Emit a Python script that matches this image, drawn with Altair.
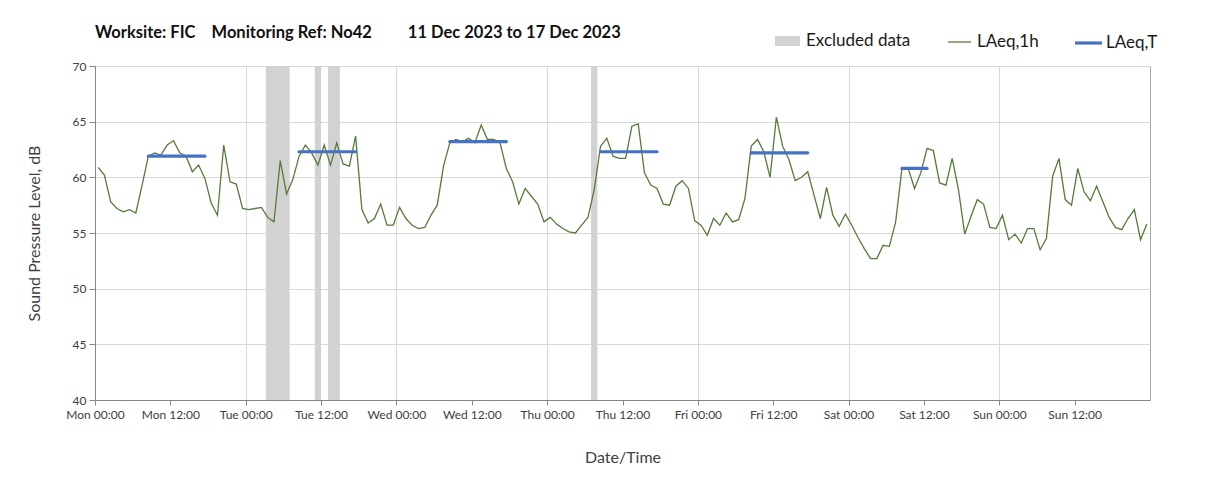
import altair as alt
import pandas as pd

# hourly LAeq,1h values, one per hour from Mon 00:00 (plotted at mid-hour)
laeq_1h = [
    60.9, 60.2, 57.8, 57.2, 56.9, 57.1, 56.8, 59.3, 61.9, 62.2, 62.0, 62.9,
    63.3, 62.2, 61.9, 60.5, 61.1, 59.9, 57.7, 56.6, 62.9, 59.6, 59.4, 57.2,
    57.1, 57.2, 57.3, 56.4, 56.0, 61.5, 58.5, 59.8, 61.9, 62.9, 62.2, 61.1,
    62.9, 61.1, 63.1, 61.2, 61.0, 63.7, 57.1, 55.9, 56.3, 57.6, 55.7, 55.7,
    57.3, 56.3, 55.7, 55.4, 55.5, 56.6, 57.5, 61.0, 63.1, 63.4, 63.2, 63.5,
    63.1, 64.7, 63.4, 63.4, 63.1, 60.8, 59.6, 57.6, 59.0, 58.3, 57.6, 56.0,
    56.4, 55.8, 55.4, 55.1, 55.0, 55.7, 56.4, 58.9, 62.8, 63.5, 61.9, 61.7,
    61.7, 64.6, 64.8, 60.4, 59.3, 59.0, 57.6, 57.5, 59.2, 59.7, 59.0, 56.1,
    55.7, 54.8, 56.3, 55.7, 56.8, 56.0, 56.2, 58.1, 62.8, 63.4, 62.3, 60.0,
    65.4, 62.8, 61.6, 59.7, 60.0, 60.5, 58.4, 56.3, 59.1, 56.6, 55.6, 56.7,
    55.7, 54.6, 53.6, 52.7, 52.7, 53.9, 53.8, 56.0, 60.8, 60.8, 59.0, 60.4,
    62.6, 62.4, 59.5, 59.3, 61.7, 58.9, 54.9, 56.5, 58.0, 57.6, 55.5, 55.4,
    56.6, 54.4, 54.9, 54.1, 55.4, 55.4, 53.5, 54.5, 60.1, 61.7, 58.0, 57.5,
    60.8, 58.7, 57.9, 59.2, 57.8, 56.4, 55.5, 55.3, 56.3, 57.1, 54.4, 55.8,
]
hours = [h + 0.5 for h in range(len(laeq_1h))]

# excluded data periods (hours from Mon 00:00)
excl_start = [27.2, 35.0, 37.1, 79.0]
excl_end = [31.0, 36.0, 39.0, 80.0]

# LAeq,T daytime periods
period_start = [8.5, 32.5, 56.5, 80.5, 104.5, 128.5]
period_end = [17.5, 41.5, 65.5, 89.5, 113.5, 132.5]
laeq_t = [61.9, 62.3, 63.2, 62.3, 62.2, 60.8]

tick_hours = list(range(0, 168, 12))
tick_labels = ["Mon 00:00", "Mon 12:00", "Tue 00:00", "Tue 12:00", "Wed 00:00",
               "Wed 12:00", "Thu 00:00", "Thu 12:00", "Fri 00:00", "Fri 12:00",
               "Sat 00:00", "Sat 12:00", "Sun 00:00", "Sun 12:00"]
y_ticks = [40, 45, 50, 55, 60, 65, 70]

line_df = pd.DataFrame({"hour": hours, "value": laeq_1h, "series": "LAeq,1h"})
excl_df = pd.DataFrame({"start": excl_start, "end": excl_end, "label": "Excluded data"})
t_df = pd.DataFrame({"start": period_start, "end": period_end, "value": laeq_t,
                     "series": "LAeq,T"})

FONT = "Lato"
NB = "\u00a0"
title_text = ("Worksite: FIC" + NB * 4 + "Monitoring Ref: No42" + NB * 9 +
              "11 Dec 2023 to 17 Dec 2023")
label_js = "[" + ",".join("'%s'" % t for t in tick_labels) + "]"

x_axis = alt.Axis(
    values=tick_hours,
    labelExpr=label_js + "[round(datum.value / 12)]",
    labelOverlap=False,
    labelFlush=False,
    title="Date/Time",
    grid=True,
    gridColor="#d9d9d9",
    gridOpacity={"condition": {"test": "datum.value % 24 === 0", "value": 1}, "value": 0},
    domainColor="#868686",
    tickColor="#868686",
    tickSize=5,
    labelFontSize=12,
    labelColor="#404040",
    labelPadding=4,
    titleFontSize=16,
    titleFontWeight="normal",
    titleColor="#404040",
    titlePadding=29,
)
y_axis = alt.Axis(
    values=y_ticks,
    title="Sound Pressure Level, dB",
    grid=True,
    gridColor="#d9d9d9",
    domainColor="#868686",
    tickColor="#868686",
    tickSize=6,
    labelFontSize=12,
    labelColor="#404040",
    labelPadding=3,
    titleFontSize=16,
    titleFontWeight="normal",
    titleColor="#404040",
    titlePadding=30,
)
x_scale = alt.Scale(domain=[0, 168], nice=False, zero=False)
y_scale = alt.Scale(domain=[40, 70], nice=False, zero=False)

legend_common = dict(title=None, orient="none", padding=0, labelFont=FONT,
                     labelFontSize=17, labelColor="#1a1a1a")

bands = alt.Chart(excl_df).mark_rect(strokeWidth=0).encode(
    x=alt.X("start:Q", scale=x_scale, axis=x_axis),
    x2="end:Q",
    fill=alt.Fill("label:N",
                  scale=alt.Scale(domain=["Excluded data"], range=["#d2d2d2"]),
                  legend=alt.Legend(legendX=680, legendY=-37.5,
                                    symbolType="M-1,-0.4H1V0.4H-1Z", symbolSize=625,
                                    symbolStrokeWidth=0, labelOffset=6,
                                    **legend_common)),
)

line = alt.Chart(line_df).mark_line(strokeWidth=1.3).encode(
    x=alt.X("hour:Q", scale=x_scale, axis=x_axis),
    y=alt.Y("value:Q", scale=y_scale, axis=y_axis),
    stroke=alt.Stroke("series:N",
                      scale=alt.Scale(domain=["LAeq,1h"], range=["#557a3a"]),
                      legend=alt.Legend(legendX=852, legendY=-36.5, symbolType="stroke",
                                        symbolSize=529, symbolStrokeWidth=1.3,
                                        labelOffset=5, **legend_common)),
)

rules = alt.Chart(t_df).mark_rule(strokeWidth=3.2, strokeCap="round").encode(
    x=alt.X("start:Q", scale=x_scale, axis=x_axis),
    x2="end:Q",
    y=alt.Y("value:Q", scale=y_scale, axis=y_axis),
    color=alt.Color("series:N",
                    scale=alt.Scale(domain=["LAeq,T"], range=["#4472c4"]),
                    legend=alt.Legend(legendX=978, legendY=-38.5, symbolType="stroke",
                                      symbolSize=729, symbolStrokeWidth=3.2,
                                      labelOffset=2, **legend_common)),
)

chart = alt.layer(bands, line, rules).properties(
    width=1055,
    height=334,
    autosize=alt.AutoSizeParams(type="none"),
    padding={"left": 87, "top": 58, "right": 42, "bottom": 84},
    title=alt.TitleParams(
        title_text,
        anchor="start", frame="group", orient="top", offset=16, dy=30,
        font=FONT, fontSize=16.5, fontWeight="bold", color="#111111"),
).configure(font=FONT).configure_view(stroke="#a6a6a6", strokeWidth=1)

chart.save("out.html", embed_options={"renderer": "svg", "actions": False})
